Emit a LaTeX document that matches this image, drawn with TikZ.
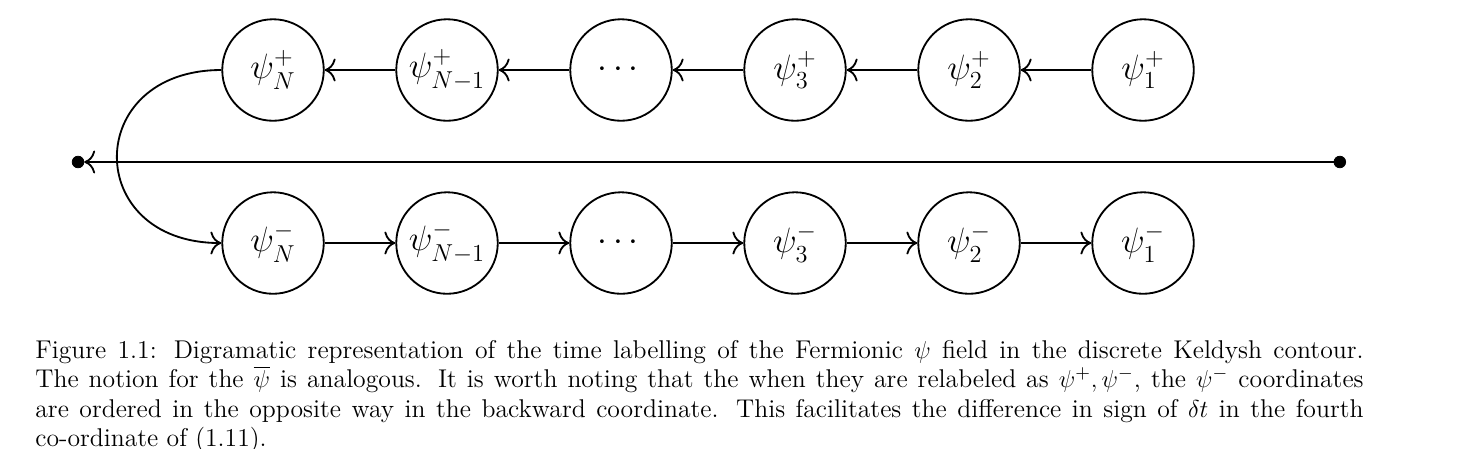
\documentclass[tikz,border=0pt]{standalone}
\usepackage{amsmath,amssymb}
\usepackage{tikz}
\usetikzlibrary{arrows,arrows.meta}
\usetikzlibrary{positioning}
\tikzstyle{fld}=[draw,circle,line width=0.9pt,minimum size=1.75cm,inner sep=0pt,font=\fontsize{18.5}{21}\selectfont]
\tikzstyle{pnt}=[draw,circle,fill,inner sep=0pt,minimum size=0.2cm]
\tikzstyle{lnk}=[line width=0.9pt,-{To[scale=1.5]}]

\begin{document}
\begin{tikzpicture}
\useasboundingbox (0,0) rectangle (25.155,-7.724);
\foreach \i/\lab in {0/N,1/N-1,2/{},3/3,4/2,5/1}{
  \ifnum\i=2
    \node[fld] at (4.707+3*\i,-1.207) (p\i) {$\cdots$};
    \node[fld] at (4.707+3*\i,-4.19) (m\i) {$\cdots$};
  \else
    \node[fld] at (4.707+3*\i,-1.207) (p\i) {$\psi^+_{\lab}$};
    \node[fld] at (4.707+3*\i,-4.19) (m\i) {$\psi^-_{\lab}$};
  \fi
}
\foreach \i [evaluate=\i as \j using int(\i+1)] in {0,...,4}{
  \draw[lnk] (p\j) -- (p\i);
  \draw[lnk] (m\i) -- (m\j);
}
\node[pnt] at (1.345,-2.793) (start) {};
\node[pnt] at (23.10,-2.793) (stop) {};
\draw[lnk] (stop) -- (start);
\draw[lnk] (p0.west) to[out=180,in=180,looseness=2.06] (m0.west);

\node[anchor=north west,text width=22.9cm,align=justify,inner sep=0pt,
  font=\fontsize{12.6}{14.4}\selectfont] at (0.603,-5.86) (cap)
{Figure 1.1: Digramatic representation of the time labelling of the Fermionic $\psi$ field in the discrete Keldysh contour.\linebreak
The notion for the $\overline{\psi}$ is analogous. It is worth noting that the when they are relabeled as $\psi^+,\psi^-$, the $\psi^-$ coordinates\linebreak
are ordered in the opposite way in the backward coordinate. This facilitates the difference in sign of $\delta t$ in the fourth\linebreak
co-ordinate of (1.11).\par};
\end{tikzpicture}
\end{document}
